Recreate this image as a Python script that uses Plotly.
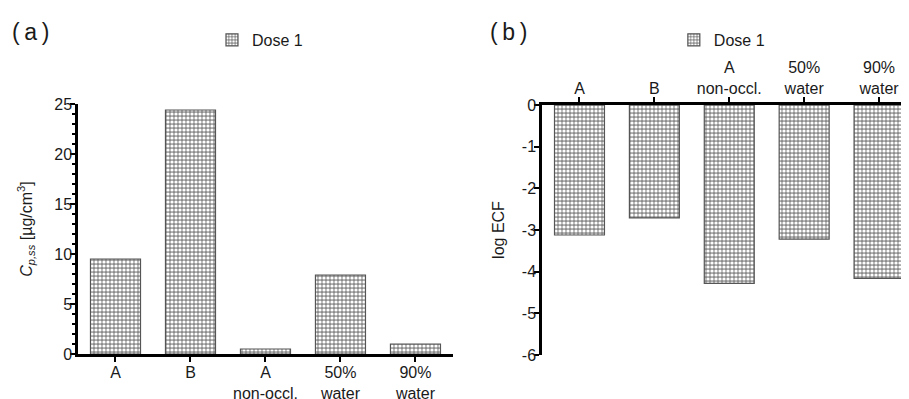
import plotly.graph_objects as go

categories = ["A", "B", "A<br>non-occl.", "50%<br>water", "90%<br>water"]
cp_ss = [9.5, 24.4, 0.5, 7.9, 1.0]
log_ecf = [-3.12, -2.71, -4.28, -3.22, -4.16]
series_name = "Dose 1"
cp_ticks = [0, 5, 10, 15, 20, 25]
ecf_ticks = [0, -1, -2, -3, -4, -5, -6]
ecf_ticktext = ["0", "-1", "-2", "-3", "-4", "-5", "-6"]

FONT = "Liberation Sans, Arial, sans-serif"
TXT = "#1a1a1a"

pattern = dict(shape=".", bgcolor="#8c8c8c", fgcolor="#ffffff", size=4, solidity=0.5, fillmode="replace")
marker = dict(color="#bdbdbd", pattern=pattern, line=dict(color="#555555", width=1.2))

fig = go.Figure()
fig.add_trace(go.Bar(x=categories, y=cp_ss, name=series_name, marker=marker,
                     xaxis="x", yaxis="y", legend="legend", showlegend=True))
fig.add_trace(go.Bar(x=categories, y=log_ecf, name=series_name, marker=marker,
                     xaxis="x2", yaxis="y2", legend="legend2", showlegend=True))

axis_common = dict(showline=True, linecolor="black", linewidth=2.5, ticks="outside",
                   tickcolor="black", tickwidth=2, showgrid=False, zeroline=False,
                   automargin=False, ticklen=5,
                   tickfont=dict(family=FONT, size=16, color=TXT))

fig.update_layout(
    width=909, height=399,
    margin=dict(l=0, r=0, t=0, b=0, autoexpand=False),
    paper_bgcolor="white", plot_bgcolor="white",
    bargap=0.333,
    showlegend=True,
    font=dict(family=FONT, size=16, color=TXT),
    xaxis=dict(domain=[0.0770, 0.4895], range=[-0.5, 4.5], anchor="y",
               ticklabelstandoff=-3, **axis_common),
    yaxis=dict(domain=[0.1328, 0.7594], range=[0, 25], anchor="x", tickvals=cp_ticks,
               ticklabelstandoff=-5,
               minor=dict(dtick=1, ticklen=3, tickwidth=1.5, tickcolor="black", ticks="outside"),
               title=dict(text="<i>C<sub>p,ss</sub></i> [µg/cm<sup>3</sup>]", standoff=18,
                          font=dict(family=FONT, size=16, color=TXT)),
               **axis_common),
    xaxis2=dict(domain=[0.5875, 0.9912], range=[-0.5, 4.4], anchor="y2", side="top",
                ticklabelstandoff=-3, **axis_common),
    yaxis2=dict(domain=[0.1303, 0.7569], range=[-6, 0], anchor="x2",
                tickvals=ecf_ticks, ticktext=ecf_ticktext, ticklabelstandoff=-5,
                title=dict(text="log ECF", standoff=14, font=dict(family=FONT, size=16, color=TXT)),
                **axis_common),
    legend=dict(x=0.2244, y=0.92, xanchor="left", yanchor="middle", orientation="h",
                font=dict(family=FONT, size=16, color=TXT), bgcolor="rgba(0,0,0,0)"),
    legend2=dict(x=0.7325, y=0.92, xanchor="left", yanchor="middle", orientation="h",
                 font=dict(family=FONT, size=16, color=TXT), bgcolor="rgba(0,0,0,0)"),
    annotations=[
        dict(text="(\u2009a\u2009)", x=0.0022, y=0.94, xref="paper", yref="paper", showarrow=False,
             xanchor="left", yanchor="middle", font=dict(family=FONT, size=23, color=TXT)),
        dict(text="(\u2009b\u2009)", x=0.528, y=0.94, xref="paper", yref="paper", showarrow=False,
             xanchor="left", yanchor="middle", font=dict(family=FONT, size=23, color=TXT)),
    ],
)

fig.write_html("out.html")
